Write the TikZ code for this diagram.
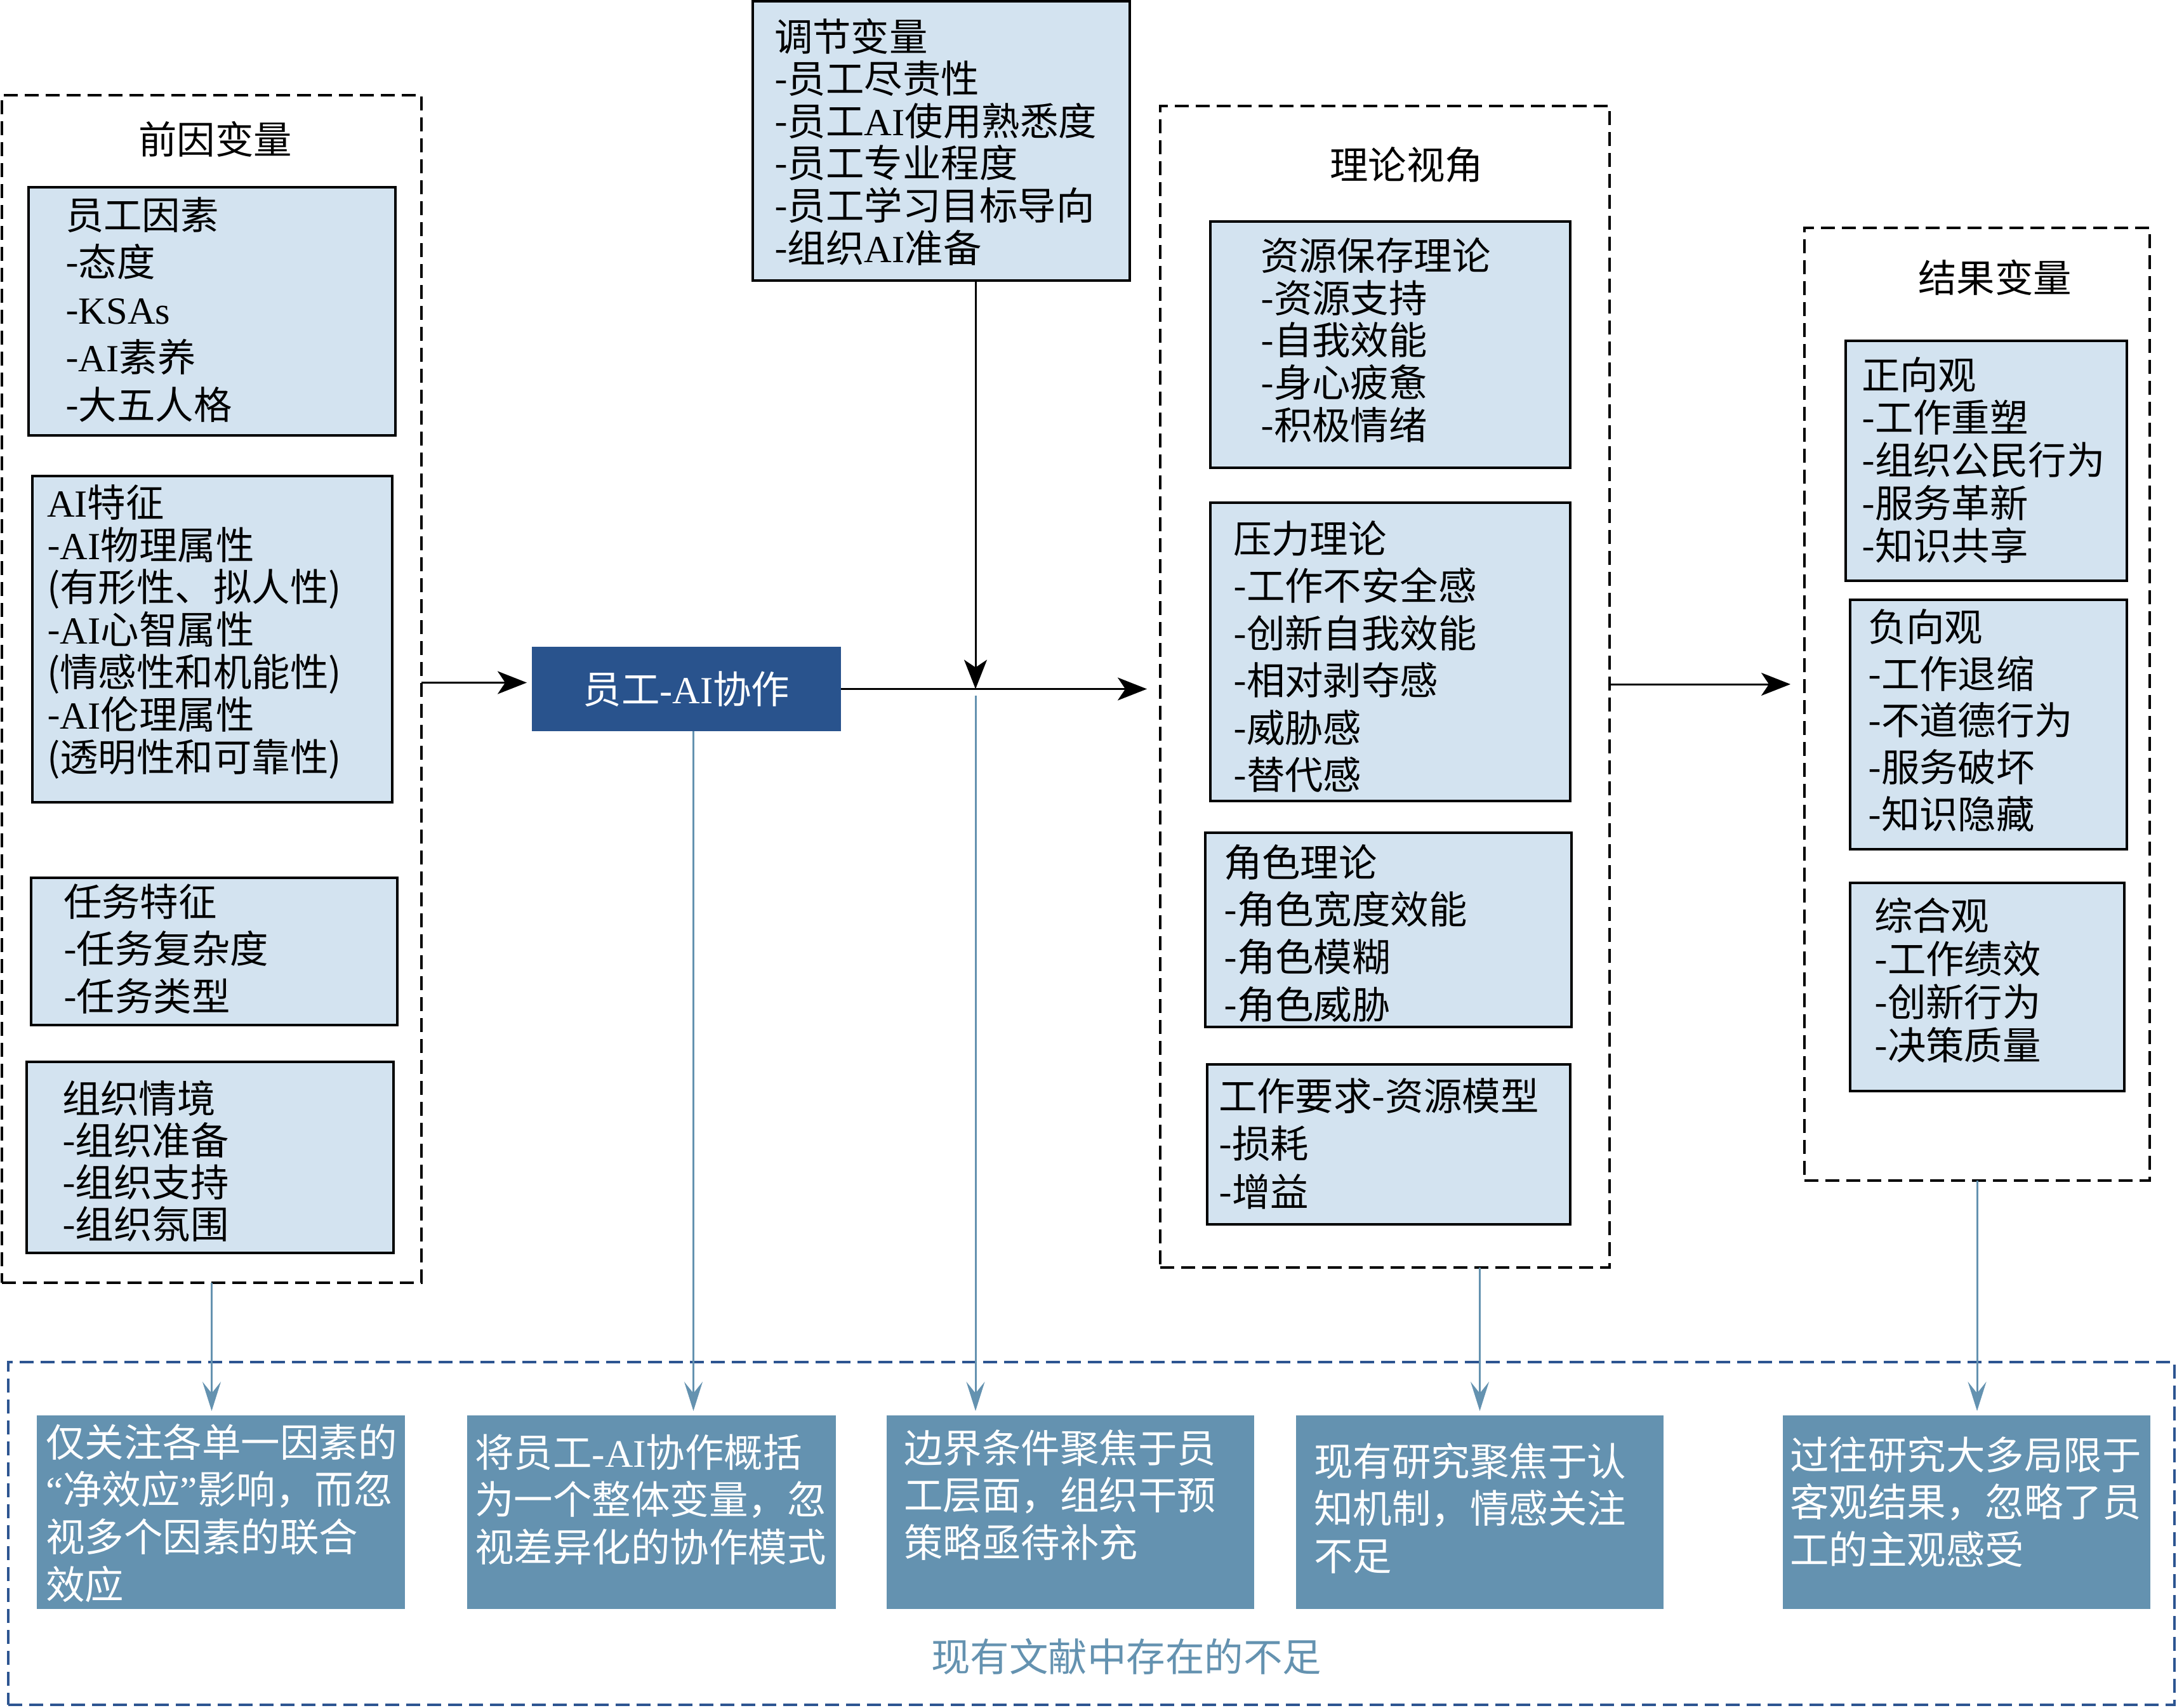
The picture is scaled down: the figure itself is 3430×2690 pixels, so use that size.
\documentclass[tikz,border=0pt]{standalone}
\usepackage{fontspec}
\setmainfont{Noto Sans CJK SC}
\newfontfamily\tnrfont{Liberation Serif}
\newcommand\tnr[1]{{\tnrfont #1}}
\usetikzlibrary{arrows.meta}
\definecolor{lblue}{RGB}{211,227,240}
\definecolor{dblue}{RGB}{41,83,141}
\definecolor{sblue}{RGB}{100,146,176}
\definecolor{dashblue}{RGB}{45,85,145}
\newcommand\textblk[2]{\parbox[t]{80mm}{\raggedright\fontsize{17.2pt}{#1}\selectfont #2}}
\newcommand\gaptext[1]{\parbox[t]{80mm}{\raggedright\fontsize{17.5pt}{21.3pt}\selectfont #1}}
\tikzset{
  cbox/.style={draw=black, line width=0.4mm, dash pattern=on 2.2mm off 1.1mm, inner sep=0, outer sep=0, anchor=north west},
  lbox/.style={draw=black, line width=0.35mm, fill=lblue, inner sep=0, outer sep=0, anchor=north west},
  gbox/.style={fill=sblue, inner sep=0, outer sep=0, anchor=north west},
  tx/.style={inner sep=0, outer sep=0, anchor=base west, text=black},
  wtx/.style={tx, text=white},
  ttl/.style={inner sep=0, outer sep=0, font=\fontsize{17.2pt}{20pt}\selectfont},
  blk/.style={draw=black, line width=0.3mm, -{Stealth[length=4.6mm,width=3.6mm,inset=1.2mm]}},
  blu/.style={draw=sblue, line width=0.3mm, -{Stealth[length=4.6mm,width=2.9mm,inset=1.8mm]}},
}
\begin{document}
\begin{tikzpicture}[x=0.1mm,y=-0.1mm]
\useasboundingbox[fill=white] (0,0) rectangle (3430,2690);

% ---------- antecedents ----------
\node[cbox, minimum width=66.1mm, minimum height=187.1mm] (ante) at (3,150) {};
\node[ttl] (antet) at (339,219) {前因变量};
\node[lbox, minimum width=57.8mm, minimum height=39.1mm] (b1) at (45,295) {};
\node[tx] (b1t) at (103,361) {\textblk{21.3pt}{员工因素\\-态度\\-\tnr{KSAs}\\-\tnr{AI}素养\\-大五人格}};
\node[lbox, minimum width=56.7mm, minimum height=51.4mm] (b2) at (51,750) {};
\node[tx] (b2t) at (74,814) {\textblk{19.06pt}{\tnr{AI}特征\\-\tnr{AI}物理属性\\(有形性、拟人性)\\-\tnr{AI}心智属性\\(情感性和机能性)\\-\tnr{AI}伦理属性\\(透明性和可靠性)}};
\node[lbox, minimum width=57.7mm, minimum height=23.2mm] (b3) at (49,1383) {};
\node[tx] (b3t) at (100,1443) {\textblk{21.2pt}{任务特征\\-任务复杂度\\-任务类型}};
\node[lbox, minimum width=57.8mm, minimum height=30.1mm] (b4) at (42,1673) {};
\node[tx] (b4t) at (98,1753) {\textblk{18.8pt}{组织情境\\-组织准备\\-组织支持\\-组织氛围}};

% ---------- moderator ----------
\node[lbox, minimum width=59.4mm, minimum height=44.0mm] (mod) at (1186,2) {};
\node[tx] (modt) at (1220,80) {\textblk{18.95pt}{调节变量\\-员工尽责性\\-员工\tnr{AI}使用熟悉度\\-员工专业程度\\-员工学习目标导向\\-组织\tnr{AI}准备}};

% ---------- collaboration ----------
\node[fill=dblue, inner sep=0, outer sep=0, anchor=north west, minimum width=48.7mm, minimum height=13.3mm] (collab) at (838,1019) {};
\node[ttl, text=white] (collabt) at (collab.center) {员工\tnr{-AI}协作};

% ---------- theories ----------
\node[cbox, minimum width=70.8mm, minimum height=183.0mm] (theory) at (1828,167) {};
\node[ttl] (theoryt) at (2216,260) {理论视角};
\node[lbox, minimum width=56.7mm, minimum height=38.8mm] (t1) at (1907,349) {};
\node[tx] (t1t) at (1986,425) {\textblk{19.06pt}{资源保存理论\\-资源支持\\-自我效能\\-身心疲惫\\-积极情绪}};
\node[lbox, minimum width=56.7mm, minimum height=47.0mm] (t2) at (1907,792) {};
\node[tx] (t2t) at (1943,871) {\textblk{21.2pt}{压力理论\\-工作不安全感\\-创新自我效能\\-相对剥夺感\\-威胁感\\-替代感}};
\node[lbox, minimum width=57.7mm, minimum height=30.6mm] (t3) at (1899,1312) {};
\node[tx] (t3t) at (1928,1381) {\textblk{21.25pt}{角色理论\\-角色宽度效能\\-角色模糊\\-角色威胁}};
\node[lbox, minimum width=57.2mm, minimum height=25.2mm] (t4) at (1902,1677) {};
\node[tx] (t4t) at (1920,1749) {\textblk{21.6pt}{工作要求-资源模型\\-损耗\\-增益}};

% ---------- outcomes ----------
\node[cbox, minimum width=54.4mm, minimum height=150.1mm] (result) at (2843,359) {};
\node[ttl] (resultt) at (3143,437) {结果变量};
\node[lbox, minimum width=44.3mm, minimum height=37.8mm] (r1) at (2908,537) {};
\node[tx] (r1t) at (2933,613) {\textblk{19.2pt}{正向观\\-工作重塑\\-组织公民行为\\-服务革新\\-知识共享}};
\node[lbox, minimum width=43.6mm, minimum height=39.3mm] (r2) at (2915,945) {};
\node[tx] (r2t) at (2943,1010) {\textblk{21.05pt}{负向观\\-工作退缩\\-不道德行为\\-服务破坏\\-知识隐藏}};
\node[lbox, minimum width=43.2mm, minimum height=32.8mm] (r3) at (2915,1391) {};
\node[tx] (r3t) at (2953,1465) {\textblk{19.35pt}{综合观\\-工作绩效\\-创新行为\\-决策质量}};

% ---------- gaps ----------
\node[cbox, draw=dashblue, minimum width=341.3mm, minimum height=54.0mm] (gapc) at (13,2146) {};
\node[gbox, minimum width=58.0mm, minimum height=30.5mm] (g1) at (58,2230) {};
\node[wtx] (g1t) at (72,2295) {\gaptext{仅关注各单一因素的\\\tnr{“}净效应\tnr{”}影响，而忽\\视多个因素的联合\\效应}};
\node[gbox, minimum width=58.1mm, minimum height=30.5mm] (g2) at (736,2230) {};
\node[wtx] (g2t) at (748,2311) {\gaptext{将员工\tnr{-AI}协作概括\\为一个整体变量，忽\\视差异化的协作模式}};
\node[gbox, minimum width=57.9mm, minimum height=30.5mm] (g3) at (1397,2230) {};
\node[wtx] (g3t) at (1424,2304) {\gaptext{边界条件聚焦于员\\工层面，组织干预\\策略亟待补充}};
\node[gbox, minimum width=57.9mm, minimum height=30.5mm] (g4) at (2042,2230) {};
\node[wtx] (g4t) at (2070,2325) {\gaptext{现有研究聚焦于认\\知机制，情感关注\\不足}};
\node[gbox, minimum width=57.9mm, minimum height=30.5mm] (g5) at (2809,2230) {};
\node[wtx] (g5t) at (2820,2315) {\gaptext{过往研究大多局限于\\客观结果，忽略了员\\工的主观感受}};
\node[tx, text=sblue, font=\fontsize{17.5pt}{20pt}\selectfont] (gapl) at (1467,2633) {现有文献中存在的不足};

% ---------- black connectors ----------
\coordinate (mj) at (1537,1085.5);
\draw[blk, shorten >=0.8mm] ([yshift=1mm]ante.east) -- ([yshift=1mm]collab.west);
\draw[blk, shorten >=2.1mm] (collab.east) -- (collab.east -| theory.west);
\draw[blk] (mod.south -| mj) -- (mj);
\draw[blk, shorten >=2.2mm] ([yshift=0.4mm]theory.east) -- ([yshift=0.4mm]theory.east -| result.west);

% ---------- blue connectors ----------
\draw[blu, shorten >=0.7mm] (ante.south) -- (ante.south |- g1.north);
\draw[blu, shorten >=0.7mm] ([xshift=1.1mm]collab.south) -- ([xshift=1.1mm]collab.south |- g2.north);
\draw[blu, shorten >=0.7mm] ([yshift=-1mm]mj) -- (mj |- g3.north);
\draw[blu, shorten >=0.7mm] (theory.south -| g4.north) -- (g4.north);
\draw[blu, shorten >=0.7mm] (result.south) -- (result.south |- g5.north);
\end{tikzpicture}
\end{document}
